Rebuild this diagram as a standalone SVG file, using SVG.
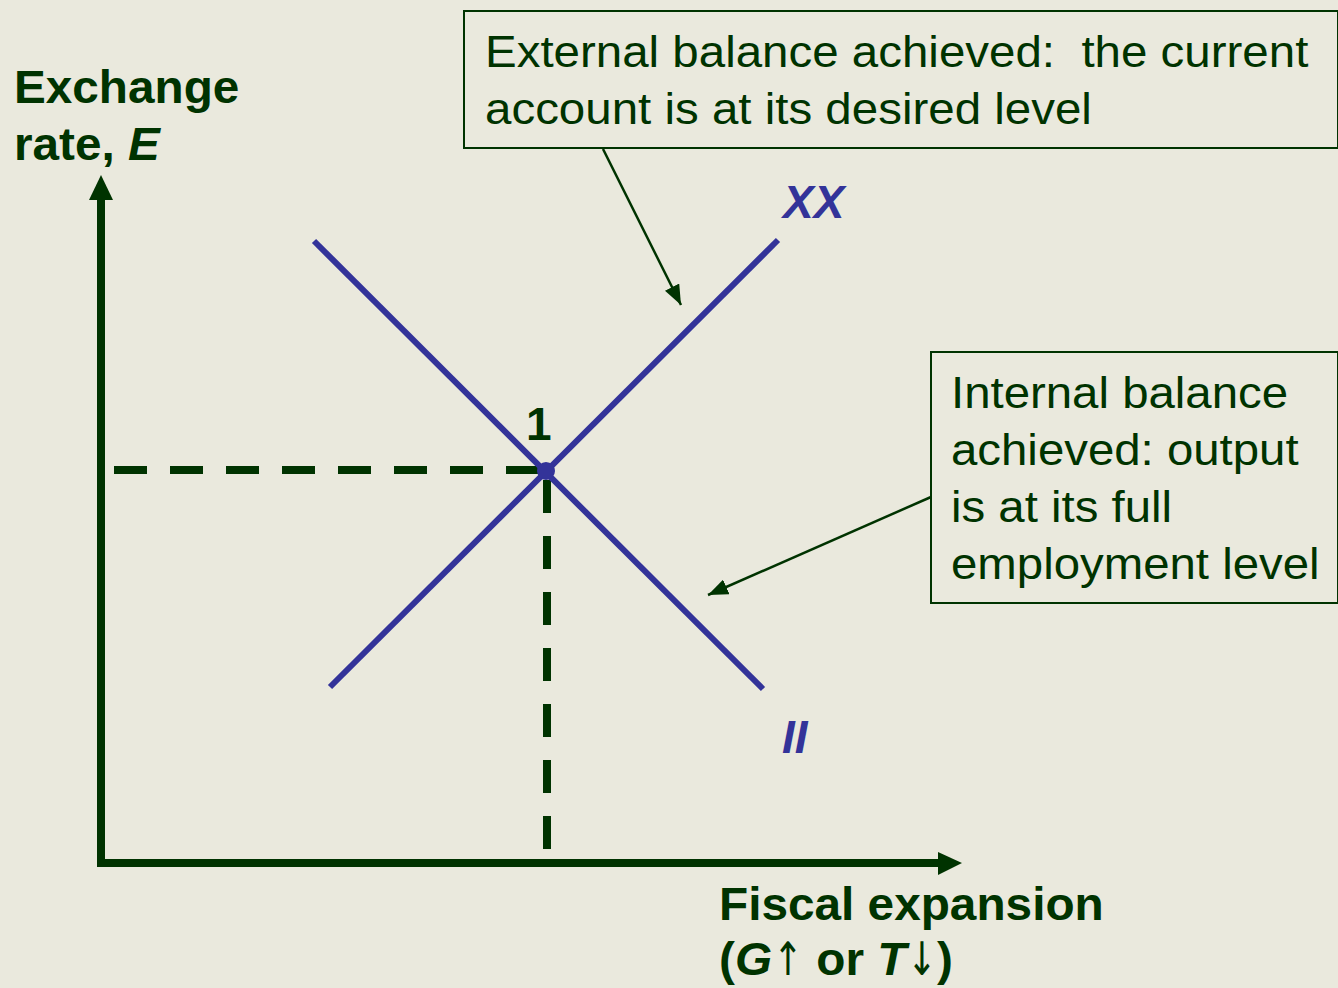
<svg xmlns="http://www.w3.org/2000/svg" width="1338" height="988" viewBox="0 0 1338 988">
  <style>
    .lbl { font-family: "Liberation Sans", Arial, sans-serif; fill: #003300; }
    .bold { font-weight: bold; }
    .arrowglyph { font-family: "DejaVu Sans", sans-serif; fill: #003300; }
    .curve { font-family: "Liberation Sans", Arial, sans-serif; font-weight: bold; font-style: italic; fill: #333399; }
    .axis { stroke: #003300; stroke-width: 8; fill: none; }
    .dash { stroke: #003300; stroke-width: 8; fill: none; stroke-dasharray: 33 23; }
    .sched { stroke: #333399; stroke-width: 6; fill: none; }
    .box { fill: #EAE9DD; stroke: #003300; stroke-width: 2; }
    .pointer { stroke: #003300; stroke-width: 2.5; fill: none; }
  </style>
  <defs>
    <marker id="tip" markerUnits="userSpaceOnUse" markerWidth="20" markerHeight="16" refX="20" refY="8" orient="auto">
      <path d="M0,0 L20,8 L0,16 Z" fill="#003300"/>
    </marker>
  </defs>

  <rect x="0" y="0" width="1338" height="988" fill="#EAE9DD"/>

  <!-- axes -->
  <g id="axes">
    <line class="axis" x1="101" y1="866" x2="101" y2="195"/>
    <path d="M89,200 L101,175 L113,200 Z" fill="#003300"/>
    <line class="axis" x1="97" y1="863" x2="942" y2="863"/>
    <path d="M938,852 L962,863 L938,875 Z" fill="#003300"/>
  </g>

  <!-- reference dashes to the equilibrium point -->
  <g id="guides">
    <line class="dash" x1="114" y1="470" x2="546" y2="470"/>
    <line class="dash" x1="547" y1="476" x2="547" y2="860" stroke-dashoffset="-4"/>
  </g>

  <!-- XX and II schedules -->
  <g id="xx-schedule">
    <line class="sched" x1="330" y1="687" x2="778" y2="240"/>
    <text class="curve" x="783" y="218" font-size="46">XX</text>
  </g>
  <g id="ii-schedule">
    <line class="sched" x1="314" y1="241" x2="763" y2="689"/>
    <text class="curve" x="782" y="753" font-size="46">II</text>
  </g>

  <g id="point-1">
    <circle cx="546" cy="471" r="9" fill="#333399"/>
    <text class="lbl bold" x="526" y="440" font-size="46">1</text>
  </g>

  <!-- axis titles (slightly widened type) -->
  <g id="y-title">
    <g transform="translate(14,0) scale(1.037,1)">
      <text class="lbl bold" x="0" y="103" font-size="46">Exchange</text>
      <text class="lbl bold" x="0" y="160" font-size="46">rate, <tspan font-style="italic">E</tspan></text>
    </g>
  </g>
  <g id="x-title">
    <g transform="translate(719,0) scale(1.038,1)">
      <text class="lbl bold" x="0" y="920" font-size="46">Fiscal expansion</text>
      <text class="lbl bold" x="0" y="975" font-size="46">(<tspan font-style="italic">G</tspan></text>
      <text class="arrowglyph" transform="translate(52,0) scale(0.75,1)" x="0" y="975" font-size="46">↑</text>
      <text class="lbl bold" x="81" y="975" font-size="46" xml:space="preserve"> or <tspan font-style="italic">T</tspan></text>
      <text class="arrowglyph" transform="translate(181,0) scale(0.75,1)" x="0" y="975" font-size="46">↓</text>
      <text class="lbl bold" x="210" y="975" font-size="46">)</text>
    </g>
  </g>

  <!-- callout boxes -->
  <g id="external-note">
    <rect class="box" x="464" y="11" width="874" height="137"/>
    <g transform="translate(485,0) scale(1.055,1)">
      <text class="lbl" x="0" y="67" font-size="45" xml:space="preserve">External balance achieved:  the current</text>
      <text class="lbl" x="0" y="124" font-size="45">account is at its desired level</text>
    </g>
  </g>
  <g id="internal-note">
    <rect class="box" x="931" y="352" width="407" height="251"/>
    <g transform="translate(951,0) scale(1.053,1)">
      <text class="lbl" x="0" y="408" font-size="45">Internal balance</text>
      <text class="lbl" x="0" y="465" font-size="45">achieved: output</text>
      <text class="lbl" x="0" y="522" font-size="45">is at its full</text>
      <text class="lbl" x="0" y="579" font-size="45">employment level</text>
    </g>
  </g>

  <!-- callout pointers -->
  <g id="connectors">
    <line class="pointer" x1="603" y1="149" x2="681" y2="305" marker-end="url(#tip)"/>
    <line class="pointer" x1="931" y1="497" x2="708" y2="595" marker-end="url(#tip)"/>
  </g>
</svg>
